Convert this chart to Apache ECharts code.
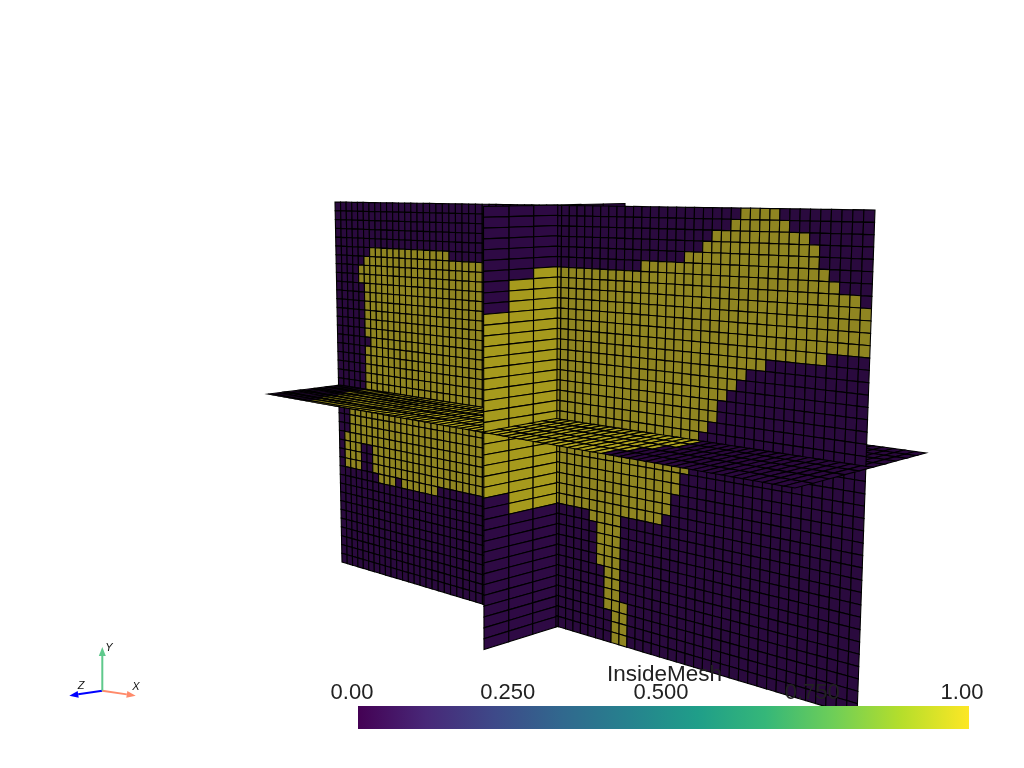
<!DOCTYPE html>
<html><head><meta charset="utf-8">
<style>html,body{margin:0;padding:0;background:#fff}#c{width:1024px;height:768px}</style>
<script src="https://cdn.jsdelivr.net/npm/echarts@6/dist/echarts.min.js"></script>
</head><body><div id="c"></div>
<script>
// Cell value 1 (inside the mesh) runs, per row of the wall slice: [firstCol, endCol)
const wallInsideRuns = [
 [[56,60]],[[55,61]],[[53,63]],[[52,64]],[[50,64]],
 [[6,19],[45,65]],[[5,66]],[[4,68]],[[4,69]],[[5,69]],
 [[5,69]],[[5,69]],[[5,65]],[[5,59]],[[5,57]],
 [[6,56]],[[5,55]],[[5,54]],[[5,54]],[[5,53]],
 [[5,52]],[[4,51]],[[4,51]],[[2,51]],[[2,50]],
 [[2,50]],[[1,49]],[[1,4],[6,49]],[[1,4],[6,48]],[[1,4],[6,30],[39,43]],
 [[7,10],[11,17],[40,43]],[[40,43]],[[40,43]],[[40,43]],[[41,43]],
 [[41,43]],[[41,43]],[[41,44]],[[42,44]],[[42,44]],[[42,44]]
];
// runs per column of the cross slice: [firstRow, endRow)
const crossInsideRuns = [[[10,27]],[[7,29]],[[6,29]],[],[],[]];
// runs per strip of the floor slice: [firstCol, endCol)
const floorInsideRuns = [[[7,49]],[[6,50]],[[6,51]],[[5,52]],[[5,52]],[],[],[],[],[]];
const wallCols = 69, wallRows = 41, crossCols = 6, floorStrips = 10, splitCol = 34;

const barTicks = [0, 0.25, 0.5, 0.75, 1];
const barTickLabels = ['0.00','0.250','0.500','0.750','1.00'];
const barTitle = 'InsideMesh';
const viridis = ['#440154','#482878','#3e4989','#31688e','#26828e','#1f9e89','#35b779','#6ece58','#b5de2b','#fde725'];

// view projection of each slice (screen frame), with perspective warps
const views = {
  wall:  {tl:[335,202],tr:[875,210],bl:[342,562],br:[857,716],su:0.703,sv:1,nu:wallCols,nv:wallRows},
  cross: {tl:[483.5,206.5],tr:[625,203.5],bl:[484,649.5],br:[621,606.6],su:1.104,sv:1,nu:crossCols,nv:wallRows},
  floor: {tl:[390,379],tr:[926,453],bl:[268,394],br:[795,488],su:0.703,sv:1.44,nu:wallCols,nv:floorStrips}
};
const looks = {
  wall:  {inside:'#8f8521',outside:'#2a0a3e'},
  cross: {inside:'#a69a1d',outside:'#2e0a44'},
  floor: {inside:'#b0a41f',outside:'#2b083f'}
};
function warp(t,s){return s*t/(1+(s-1)*t);}
function project(name,i,j){
  const v=views[name];
  const u=warp(i/v.nu,v.su);
  const w=1-warp(1-j/v.nv,v.sv); // warp measured from the lower (nearer) edge
  const tx=v.tl[0]+(v.tr[0]-v.tl[0])*u, ty=v.tl[1]+(v.tr[1]-v.tl[1])*u;
  const bx=v.bl[0]+(v.br[0]-v.bl[0])*u, by=v.bl[1]+(v.br[1]-v.bl[1])*u;
  return [tx+(bx-tx)*w, ty+(by-ty)*w];
}
function inRuns(runs,k){return (runs||[]).some(r=>k>=r[0]&&k<r[1]);}

const cells=[];
function addWall(){
  for(let r=0;r<wallRows;r++)for(let c=0;c<wallCols;c++)
    cells.push(['wall',c,r,inRuns(wallInsideRuns[r],c)?1:0]);
}
function addCross(c0,c1){
  for(let c=c0;c<c1;c++)for(let r=0;r<wallRows;r++)
    cells.push(['cross',c,r,inRuns(crossInsideRuns[c],r)?1:0]);
}
function addFloor(s0,s1,c0,c1){
  // strip 0 is the near edge; in the view frame the near edge is the bottom
  for(let s=s0;s<s1;s++)for(let c=c0;c<c1;c++)
    cells.push(['floor',c,floorStrips-1-s,inRuns(floorInsideRuns[s],c)?1:0]);
}
addFloor(5,10,0,wallCols);
addCross(3,6);
addWall();
addFloor(0,5,0,splitCol);
addCross(0,3);
addFloor(0,5,splitCol,wallCols);

const axesTips=[
 {name:'Z',tip:[69.3,695.7],color:'#0000ff',lab:[81,686]},
 {name:'X',tip:[135.7,695.7],color:'#ff8a6a',lab:[136,686.5]},
 {name:'Y',tip:[102.3,647],color:'#5fc98c',lab:[109,648]}
];
const axesOrigin=[102.3,690.7];

const chart=echarts.init(document.getElementById('c'),null,{renderer:'canvas'});
chart.setOption({
  animation:false,backgroundColor:'#ffffff',
  grid:[{left:0,top:0,width:1024,height:768,show:false},{left:358,top:706,width:611,height:23,show:false}],
  xAxis:[{type:'value',min:0,max:1024,show:false,gridIndex:0},{type:'value',min:0,max:1,show:false,gridIndex:1}],
  yAxis:[{type:'value',min:0,max:768,inverse:true,show:false,gridIndex:0},{type:'value',min:0,max:1,show:false,gridIndex:1}],
  series:[
   {type:'custom',xAxisIndex:0,yAxisIndex:0,coordinateSystem:'cartesian2d',clip:false,z:2,silent:true,
    data:cells,progressive:0,encode:{x:1,y:2},
    renderItem(p,api){
      const d=cells[p.dataIndex],n=d[0],i=d[1],j=d[2];
      const q=[[i,j],[i+1,j],[i+1,j+1],[i,j+1]].map(a=>api.coord(project(n,a[0],a[1])));
      return {type:'polygon',shape:{points:q},style:{fill:d[3]?looks[n].inside:looks[n].outside,stroke:'#000000',lineWidth:1.1}};
    }},
   {type:'custom',xAxisIndex:1,yAxisIndex:1,coordinateSystem:'cartesian2d',clip:false,z:5,silent:true,
    data:[[0,1]],encode:{x:0,y:1},
    renderItem(p,api){
      const a=api.coord([0,1]),b=api.coord([1,0]);
      return {type:'rect',shape:{x:a[0],y:a[1],width:b[0]-a[0],height:b[1]-a[1]},
        style:{fill:new echarts.graphic.LinearGradient(0,0,1,0,viridis.map((c,k)=>({offset:k/(viridis.length-1),color:c})))}};
    }},
   {type:'custom',xAxisIndex:1,yAxisIndex:1,coordinateSystem:'cartesian2d',clip:false,z:6,silent:true,
    data:barTicks.map((t,k)=>[t,k]),encode:{x:0},
    renderItem(p,api){
      const k=p.dataIndex,shift=[-6,-3,-2.5,-4,-7][k];
      const a=api.coord([barTicks[k],1]);
      return {type:'text',style:{x:a[0]+shift,y:a[1]-13.5,text:barTickLabels[k],fill:'#222',align:'center',verticalAlign:'middle',
        font:'22px "Liberation Sans"'}};
    }},
   {type:'custom',xAxisIndex:0,yAxisIndex:0,coordinateSystem:'cartesian2d',clip:false,z:6,silent:true,
    data:[[0,0]],encode:{x:0,y:1},
    renderItem(p,api){
      const o=api.coord([664.5,675]);
      return {type:'text',style:{x:o[0],y:o[1],text:barTitle,fill:'#222',align:'center',verticalAlign:'middle',font:'22.5px "Liberation Sans"'}};
    }},
   {type:'custom',xAxisIndex:0,yAxisIndex:0,coordinateSystem:'cartesian2d',clip:false,z:6,silent:true,
    data:axesTips.map((t,k)=>[k,0]),encode:{x:0},
    renderItem(p,api){
      const t=axesTips[p.dataIndex],o=api.coord(axesOrigin),e=api.coord(t.tip),l=api.coord(t.lab);
      const dx=e[0]-o[0],dy=e[1]-o[1],len=Math.hypot(dx,dy),ux=dx/len,uy=dy/len,b=[e[0]-ux*9,e[1]-uy*9];
      return {type:'group',children:[
        {type:'line',shape:{x1:o[0],y1:o[1],x2:b[0],y2:b[1]},style:{stroke:t.color,lineWidth:2}},
        {type:'polygon',shape:{points:[e,[b[0]-uy*3.5,b[1]+ux*3.5],[b[0]+uy*3.5,b[1]-ux*3.5]]},style:{fill:t.color}},
        {type:'text',style:{x:l[0],y:l[1],text:t.name,fill:'#111',align:'center',verticalAlign:'middle',font:'italic 11px "Liberation Sans"'}}
      ]};
    }}
  ]
});
</script></body></html>
